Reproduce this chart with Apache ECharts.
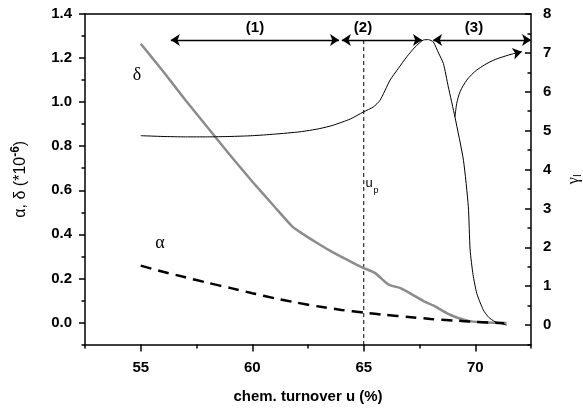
<!DOCTYPE html>
<html><head><meta charset="utf-8">
<script src="https://cdn.jsdelivr.net/npm/echarts@6/dist/echarts.min.js"></script>
<style>html,body{margin:0;padding:0;background:#fff}#c{width:583px;height:412px}</style>
</head><body><div id="c"></div>
<script>
// x = chem. turnover u (%)
const deltaData = [[55,1.265],[56,1.14],[57,1.01],[58,0.885],[59,0.76],[60,0.64],[61,0.525],[61.8,0.435],[62.3,0.4],[63,0.355],[63.5,0.325],[64,0.298],[64.5,0.272],[65,0.247],[65.5,0.225],[66,0.18],[66.2,0.168],[66.65,0.156],[67.2,0.125],[67.7,0.096],[68.14,0.076],[68.5,0.055],[68.87,0.035],[69.3,0.018],[69.8,0.005],[70.5,0],[71.4,-0.002]];
const alphaData = [[55,0.258],[56,0.23],[57,0.205],[58,0.18],[59,0.157],[60,0.133],[61,0.11],[62,0.09],[63,0.072],[64,0.057],[65,0.045],[66,0.034],[67,0.025],[68,0.016],[69,0.009],[70,0.003],[71.3,-0.003]];
const gammaData = [[55,4.87],[56,4.85],[57,4.84],[58,4.84],[59,4.85],[60,4.87],[61,4.91],[62.14,4.97],[63,5.05],[63.63,5.14],[64.4,5.3],[64.98,5.48],[65.43,5.61],[65.73,5.78],[66.18,6.3],[66.55,6.6],[66.93,6.9],[67.3,7.15],[67.67,7.33],[67.9,7.34],[68.12,7.28],[68.35,7.0],[68.57,6.73],[68.79,6.13],[69.09,5.35],[69.47,4.24],[69.69,3.04],[69.77,1.93],[69.9,1.3],[70.07,0.81],[70.36,0.39],[70.6,0.2],[70.89,0.085],[71.41,0]];
const branchData = [[69.09,5.35],[69.17,5.7],[69.32,6.0],[69.62,6.3],[70.07,6.56],[70.81,6.81],[71.71,6.98]];
const branchTip = [[71.71,6.98],[72.09,7.03]];
const regionArrows = [[[56.35,7.33],[63.89,7.33]],[[64.02,7.33],[67.61,7.33]],[[68.11,7.33],[72.5,7.33]]];
const upLine = [[65,7.33],[65,-0.5]];
const xMajor = [55,60,65,70];
const xMinor = [52.5,57.5,62.5,67.5,72.5];
const leftMajor = [0,0.2,0.4,0.6,0.8,1.0,1.2,1.4];
const leftMinor = [-0.1,0.1,0.3,0.5,0.7,0.9,1.1,1.3];
const rightMajor = [0,1,2,3,4,5,6,7,8];
const rightMinor = [-0.5,0.5,1.5,2.5,3.5,4.5,5.5,6.5,7.5];

const F = 'Liberation Sans, Arial, sans-serif';
const lineStyleAx = {color:'#000', width:1.5};
const lab = {color:'#000', fontFamily:F, fontWeight:'bold', fontSize:15};

const chart = echarts.init(document.getElementById('c'));
chart.setOption({
  animation:false,
  grid:{left:85, right:52, top:14, bottom:67.5, containLabel:false, outerBoundsMode:'none'},
  xAxis:[
    {type:'value', min:52.5, max:72.5, position:'bottom', axisLine:{onZero:false, lineStyle:lineStyleAx},
     axisTick:{customValues:xMajor, length:7, lineStyle:lineStyleAx},
     axisLabel:{customValues:xMajor, ...lab, margin:16}, splitLine:{show:false},
     name:'chem. turnover u (%)', nameLocation:'middle', nameGap:45,
     nameTextStyle:{...lab}},
    {type:'value', min:52.5, max:72.5, position:'bottom', axisLine:{show:false, onZero:false},
     axisTick:{customValues:xMinor, length:4, lineStyle:lineStyleAx},
     axisLabel:{show:false}, splitLine:{show:false}},
    {type:'value', min:52.5, max:72.5, position:'top', axisLine:{onZero:false, lineStyle:lineStyleAx},
     axisTick:{show:false}, axisLabel:{show:false}, splitLine:{show:false}}
  ],
  yAxis:[
    {type:'value', min:-0.1, max:1.4, position:'left', axisLine:{show:true, onZero:false, lineStyle:lineStyleAx},
     axisTick:{show:true, customValues:leftMajor, length:6, lineStyle:lineStyleAx},
     axisLabel:{customValues:leftMajor, ...lab, margin:13, formatter:v=>v.toFixed(1)}, splitLine:{show:false},
     name:'{a|α, δ (*10}{s|-6}{a|)}', nameLocation:'middle', nameGap:54, nameRotate:90,
     nameTextStyle:{rich:{a:{fontFamily:F, fontSize:16, color:'#000'}, s:{fontFamily:F, fontSize:12, fontWeight:'bold', color:'#000', padding:[0,0,9,0]}}}},
    {type:'value', min:-0.1, max:1.4, position:'left', axisLine:{show:false, onZero:false},
     axisTick:{show:true, customValues:leftMinor, length:3.5, lineStyle:lineStyleAx},
     axisLabel:{show:false}, splitLine:{show:false}},
    {type:'value', min:-0.5, max:8, position:'right', axisLine:{show:true, onZero:false, lineStyle:lineStyleAx},
     axisTick:{show:true, inside:true, customValues:rightMajor, length:6, lineStyle:lineStyleAx},
     axisLabel:{customValues:rightMajor, ...lab, margin:12}, splitLine:{show:false},
     name:'{g|γ}{s|I}', nameLocation:'middle', nameGap:34, nameRotate:90,
     nameTextStyle:{rich:{g:{fontFamily:'Liberation Serif, serif', fontSize:16, color:'#000'}, s:{fontFamily:F, fontSize:10, color:'#000', padding:[8,0,0,0]}}}},
    {type:'value', min:-0.5, max:8, position:'right', axisLine:{show:false, onZero:false},
     axisTick:{show:true, inside:true, customValues:rightMinor, length:3.5, lineStyle:lineStyleAx},
     axisLabel:{show:false}, splitLine:{show:false}}
  ],
  series:[
    {type:'line', name:'delta', xAxisIndex:0, yAxisIndex:0, data:deltaData, showSymbol:false, smooth:0.2,
     lineStyle:{color:'#8c8c8c', width:2.5}, z:3},
    {type:'line', name:'alpha', xAxisIndex:0, yAxisIndex:0, data:alphaData, showSymbol:false, smooth:0.2,
     lineStyle:{color:'#000', width:2.5, type:[11,7]}, z:4},
    {type:'line', name:'gamma', xAxisIndex:0, yAxisIndex:2, data:gammaData, showSymbol:false, smooth:0.2,
     lineStyle:{color:'#000', width:1}, z:5},
    {type:'line', name:'branch', xAxisIndex:0, yAxisIndex:2, data:branchData, showSymbol:false, smooth:0.3,
     lineStyle:{color:'#000', width:1}, z:5},
    {type:'line', name:'up', xAxisIndex:0, yAxisIndex:2, data:upLine, showSymbol:false,
     lineStyle:{color:'#000', width:1, type:[4,3]}, z:2},
    {type:'lines', coordinateSystem:'cartesian2d', xAxisIndex:0, yAxisIndex:2,
     symbol:['none','arrow'], symbolSize:9, lineStyle:{color:'#000', width:1, opacity:1},
     itemStyle:{color:'#000'}, data:[{coords:branchTip}], z:5},
    {type:'lines', coordinateSystem:'cartesian2d', xAxisIndex:0, yAxisIndex:2,
     symbol:['arrow','arrow'], symbolSize:9, lineStyle:{color:'#000', width:1.3, opacity:1},
     itemStyle:{color:'#000'}, data:regionArrows.map(c=>({coords:c})), z:6}
  ],
  graphic:[
    {type:'text', style:{text:'(1)', x:255, y:28, align:'center', verticalAlign:'middle', font:'bold 15px '+F, fill:'#000'}},
    {type:'text', style:{text:'(2)', x:363, y:28, align:'center', verticalAlign:'middle', font:'bold 15px '+F, fill:'#000'}},
    {type:'text', style:{text:'(3)', x:474, y:28, align:'center', verticalAlign:'middle', font:'bold 15px '+F, fill:'#000'}},
    {type:'text', style:{text:'δ', x:137, y:75, align:'center', verticalAlign:'middle', font:'18px Liberation Serif, serif', fill:'#000'}},
    {type:'text', style:{text:'α', x:160, y:243, align:'center', verticalAlign:'middle', font:'18px Liberation Serif, serif', fill:'#000'}},
    {type:'text', style:{text:'u', x:369, y:183, align:'center', verticalAlign:'middle', font:'13px '+F, fill:'#000'}},
    {type:'text', style:{text:'p', x:376, y:191, align:'center', verticalAlign:'middle', font:'9px '+F, fill:'#000'}}
  ]
});
</script></body></html>
